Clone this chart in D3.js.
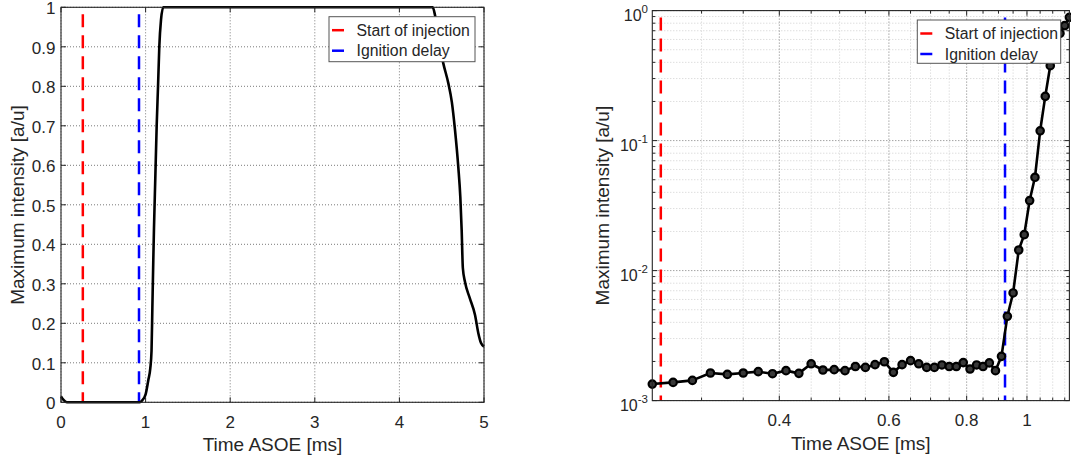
<!DOCTYPE html>
<html><head><meta charset="utf-8">
<script src="https://cdn.jsdelivr.net/npm/d3@7"></script>
<style>body{margin:0;background:#fff} svg{display:block} text{font-family:"Liberation Sans",Arial,sans-serif;fill:#262626}</style>
</head><body><svg id="c" width="1071" height="460"></svg>
<script>
// ---- shared
const injectionTime = 0.258;
const ignitionTime = 0.922;
const legendLabels = ["Start of injection", "Ignition delay"];
const legendColors = ["#ff0000", "#0000ff"];
const xLabel = "Time ASOE [ms]";
const yLabel = "Maximum intensity [a/u]";

// ---- left (linear) panel
const linTime = [0, 0.03, 0.07, 0.5, 0.93, 0.96, 1.0, 1.032, 1.055, 1.07, 1.08, 1.091, 1.099, 1.115, 1.131, 1.147, 1.162, 1.182, 1.209, 2.5, 4.394, 4.421, 4.47, 4.519, 4.578, 4.62, 4.657, 4.696, 4.72, 4.736, 4.75, 4.775, 4.83, 4.894, 4.933, 4.965, 5.0];
const linIntensity = [0.015, 0.006, 0.0, 0.0, 0.0, 0.005, 0.02, 0.056, 0.085, 0.13, 0.24, 0.36, 0.44, 0.57, 0.70, 0.80, 0.90, 0.968, 1.0, 1.0, 1.0, 0.98, 0.91, 0.858, 0.808, 0.76, 0.69, 0.596, 0.52, 0.436, 0.34, 0.305, 0.265, 0.221, 0.175, 0.15, 0.141];
const linXTicks = [0, 1, 2, 3, 4, 5];
const linYTicks = [0, 0.1, 0.2, 0.3, 0.4, 0.5, 0.6, 0.7, 0.8, 0.9, 1];
const linYTickLabels = ["0", "0.1", "0.2", "0.3", "0.4", "0.5", "0.6", "0.7", "0.8", "0.9", "1"];

// ---- right (log-log) panel
const logTime = [0.25, 0.27, 0.29, 0.31, 0.33, 0.35, 0.37, 0.39, 0.41, 0.43, 0.45, 0.47, 0.49, 0.51, 0.53, 0.55, 0.57, 0.59, 0.61, 0.63, 0.65, 0.67, 0.69, 0.71, 0.73, 0.75, 0.77, 0.79, 0.81, 0.83, 0.85, 0.87, 0.89, 0.91, 0.93, 0.95, 0.97, 0.99, 1.01, 1.03, 1.05, 1.07, 1.09, 1.11, 1.13, 1.15, 1.17];
const logIntensity = [1.34e-3, 1.38e-3, 1.43e-3, 1.63e-3, 1.59e-3, 1.63e-3, 1.67e-3, 1.61e-3, 1.70e-3, 1.62e-3, 1.92e-3, 1.72e-3, 1.73e-3, 1.70e-3, 1.83e-3, 1.80e-3, 1.89e-3, 1.99e-3, 1.65e-3, 1.89e-3, 2.03e-3, 1.92e-3, 1.80e-3, 1.80e-3, 1.88e-3, 1.83e-3, 1.83e-3, 1.96e-3, 1.75e-3, 1.88e-3, 1.83e-3, 1.95e-3, 1.70e-3, 2.19e-3, 4.45e-3, 6.73e-3, 1.44e-2, 1.89e-2, 3.46e-2, 5.22e-2, 0.119, 0.219, 0.377, 0.54, 0.669, 0.767, 0.888];
const logXTicks = [0.4, 0.6, 0.8, 1];
const logXTickLabels = ["0.4", "0.6", "0.8", "1"];
const logXMinor = [0.3, 0.35, 0.45, 0.5, 0.55, 0.65, 0.7, 0.75, 0.85, 0.9, 0.95, 1.05, 1.1, 1.15];
const logYTicks = [1e-3, 1e-2, 1e-1, 1];
const logYExponents = ["-3", "-2", "-1", "0"];
const logYMinor = [2e-3, 3e-3, 4e-3, 5e-3, 6e-3, 7e-3, 8e-3, 9e-3, 2e-2, 3e-2, 4e-2, 5e-2, 6e-2, 7e-2, 8e-2, 9e-2, 2e-1, 3e-1, 4e-1, 5e-1, 6e-1, 7e-1, 8e-1, 9e-1];

const svg = d3.select("#c");
const AX = "#262626";

function frame(g, x, y, xTicks, yTicks, xMinor, yMinor) {
  const [x0, x1] = x.range(), [y0, y1] = y.range();
  g.selectAll(null).data(xMinor).join("line")
    .attr("x1", d => x(d)).attr("x2", d => x(d)).attr("y1", y0).attr("y2", y1)
    .attr("stroke", "#cfcfcf").attr("stroke-dasharray", "1,2");
  g.selectAll(null).data(yMinor).join("line")
    .attr("y1", d => y(d)).attr("y2", d => y(d)).attr("x1", x0).attr("x2", x1)
    .attr("stroke", "#cfcfcf").attr("stroke-dasharray", "1,2");
  g.selectAll(null).data(xTicks).join("line")
    .attr("x1", d => x(d)).attr("x2", d => x(d)).attr("y1", y0).attr("y2", y1)
    .attr("stroke", "#7a7a7a").attr("stroke-dasharray", "1,2");
  g.selectAll(null).data(yTicks).join("line")
    .attr("y1", d => y(d)).attr("y2", d => y(d)).attr("x1", x0).attr("x2", x1)
    .attr("stroke", "#7a7a7a").attr("stroke-dasharray", "1,2");
}
function box(g, x, y, xTicks, yTicks, xMinor, yMinor) {
  const [x0, x1] = x.range(), [y0, y1] = y.range();
  const tk = (arr, len) => {
    arr.forEach(d => {
      const px = x(d);
      g.append("line").attr("x1", px).attr("x2", px).attr("y1", y0).attr("y2", y0 - len).attr("stroke", AX);
      g.append("line").attr("x1", px).attr("x2", px).attr("y1", y1).attr("y2", y1 + len).attr("stroke", AX);
    });
  };
  const tky = (arr, len) => {
    arr.forEach(d => {
      const py = y(d);
      g.append("line").attr("y1", py).attr("y2", py).attr("x1", x0).attr("x2", x0 + len).attr("stroke", AX);
      g.append("line").attr("y1", py).attr("y2", py).attr("x1", x1).attr("x2", x1 - len).attr("stroke", AX);
    });
  };
  tk(xTicks, 5); tky(yTicks, 5); tk(xMinor, 3); tky(yMinor, 3);
  g.append("rect").attr("x", x0).attr("y", y1).attr("width", x1 - x0).attr("height", y0 - y1)
    .attr("fill", "none").attr("stroke", AX).attr("stroke-width", 1.1);
}
function vlines(g, x, y) {
  const [y0, y1] = y.range();
  [injectionTime, ignitionTime].forEach((t, i) => {
    g.append("line").attr("x1", x(t)).attr("x2", x(t)).attr("y1", y1 + 7).attr("y2", y0)
      .attr("stroke", legendColors[i]).attr("stroke-width", 2.5).attr("stroke-dasharray", "13,8");
  });
}
function legend(g, lx, ly, w, h) {
  g.append("rect").attr("x", lx).attr("y", ly).attr("width", w).attr("height", h)
    .attr("fill", "#fff").attr("stroke", "#555").attr("stroke-width", 1);
  legendLabels.forEach((s, i) => {
    const cy = ly + 13.5 + i * 20.5;
    g.append("line").attr("x1", lx + 3).attr("x2", lx + 15).attr("y1", cy).attr("y2", cy)
      .attr("stroke", legendColors[i]).attr("stroke-width", 2.5);
    g.append("text").attr("x", lx + 27.5).attr("y", cy + 5.5).attr("font-size", 15.8).text(s);
  });
}

// ===== left panel
{
  const g = svg.append("g");
  const x = d3.scaleLinear().domain([0, 5]).range([61, 484]);
  const y = d3.scaleLinear().domain([0, 1]).range([402.3, 7.3]);
  frame(g, x, y, linXTicks, linYTicks, [], []);
  vlines(g, x, y);
  g.append("path").datum(linTime.map((t, i) => [t, linIntensity[i]]))
    .attr("d", d3.line().x(d => x(d[0])).y(d => y(d[1])).curve(d3.curveMonotoneX))
    .attr("fill", "none").attr("stroke", "#000").attr("stroke-width", 2.6).attr("stroke-linejoin", "round");
  box(g, x, y, linXTicks, linYTicks, [], []);
  g.selectAll(null).data(linXTicks).join("text")
    .attr("x", d => x(d)).attr("y", 428).attr("text-anchor", "middle").attr("font-size", 17).text(d => d);
  g.selectAll(null).data(linYTicks).join("text")
    .attr("x", 55.5).attr("y", d => y(d) + 6.8).attr("text-anchor", "end").attr("font-size", 17)
    .text((d, i) => linYTickLabels[i]);
  g.append("text").attr("x", 272.5).attr("y", 451).attr("text-anchor", "middle").attr("font-size", 19).text(xLabel);
  g.append("text").attr("transform", "translate(24,205) rotate(-90)").attr("text-anchor", "middle").attr("font-size", 19).text(yLabel);
  legend(g, 329, 16.7, 146, 45);
}

// ===== right panel
{
  const g = svg.append("g");
  const x = d3.scaleLog().domain([0.25, 1.17]).range([652.3, 1069.4]);
  const y = d3.scaleLog().domain([1e-3, 1]).range([400.6, 10.6]);
  frame(g, x, y, logXTicks, logYTicks, logXMinor, logYMinor);
  vlines(g, x, y);
  const pts = logTime.map((t, i) => [t, logIntensity[i]]);
  g.append("path").datum(pts)
    .attr("d", d3.line().x(d => x(d[0])).y(d => y(d[1])))
    .attr("fill", "none").attr("stroke", "#000").attr("stroke-width", 2.6).attr("stroke-linejoin", "round");
  g.selectAll(null).data(pts).join("circle")
    .attr("cx", d => x(d[0])).attr("cy", d => y(d[1])).attr("r", 3.7)
    .attr("fill", "#383838").attr("stroke", "#000").attr("stroke-width", 2.2);
  box(g, x, y, logXTicks, logYTicks, logXMinor, logYMinor);
  g.selectAll(null).data(logXTicks).join("text")
    .attr("x", d => x(d)).attr("y", 425.5).attr("text-anchor", "middle").attr("font-size", 17)
    .text((d, i) => logXTickLabels[i]);
  const yl = g.selectAll(null).data(logYTicks).join("text")
    .attr("x", 648).attr("y", d => y(d) + 10.5).attr("text-anchor", "end");
  yl.append("tspan").attr("font-size", 16).text("10");
  yl.append("tspan").attr("font-size", 11.5).attr("dy", -8).text((d, i) => logYExponents[i]);
  g.append("text").attr("x", 860.8).attr("y", 449.5).attr("text-anchor", "middle").attr("font-size", 19).text(xLabel);
  g.append("text").attr("transform", "translate(609,205.6) rotate(-90)").attr("text-anchor", "middle").attr("font-size", 19).text(yLabel);
  legend(g, 917.3, 20, 143.4, 43.3);
}
</script></body></html>
